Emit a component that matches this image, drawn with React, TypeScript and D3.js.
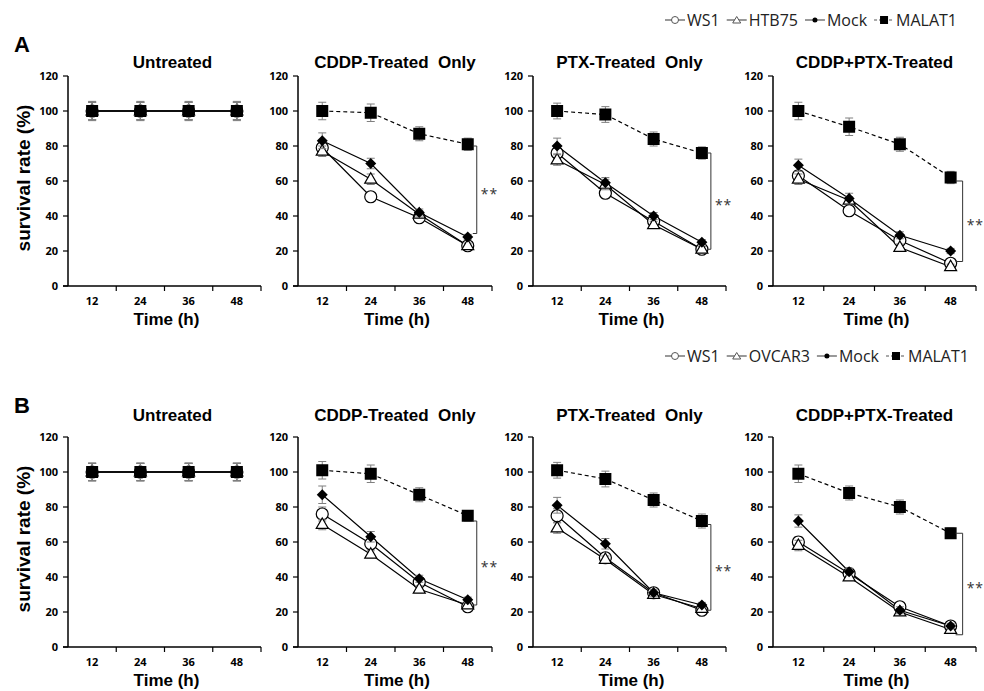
import React, { useEffect, useRef } from 'react';
import * as d3 from 'd3';

// time points on x axis
const timePoints = ['12', '24', '36', '48'];
const yTicks = [0, 20, 40, 60, 80, 100, 120];
const panelTitles = ['Untreated', 'CDDP-Treated\u00a0\u00a0Only', 'PTX-Treated\u00a0\u00a0Only', 'CDDP+PTX-Treated'];
const seriesA = ['WS1', 'HTB75', 'Mock', 'MALAT1'];
const seriesB = ['WS1', 'OVCAR3', 'Mock', 'MALAT1'];

// values per panel, series order: WS1, HTB75/OVCAR3, Mock, MALAT1
const A_untreated = [[100, 100, 100, 100], [100, 100, 100, 100], [100, 100, 100, 100], [100, 100, 100, 100]];
const A_cddp = [[79, 51, 39, 23], [77, 61, 41, 23], [83, 70, 42, 28], [100, 99, 87, 81]];
const A_ptx = [[76, 53, 37, 21], [72, 58, 35, 21], [80, 59, 40, 25], [100, 98, 84, 76]];
const A_both = [[63, 43, 26, 13], [61, 49, 22, 11], [69, 50, 29, 20], [100, 91, 81, 62]];

const B_untreated = [[100, 100, 100, 100], [100, 100, 100, 100], [100, 100, 100, 100], [100, 100, 100, 100]];
const B_cddp = [[76, 59, 37, 23], [70, 53, 33, 24], [87, 63, 39, 27], [101, 99, 87, 75]];
const B_ptx = [[75, 51, 31, 21], [68, 50, 30, 22], [81, 59, 31, 24], [101, 96, 84, 72]];
const B_both = [[60, 42, 23, 12], [58, 40, 20, 10], [72, 43, 21, 12], [99, 88, 80, 65]];

// error bars (sd)
const A_untreated_err = [[5, 5, 5, 5], [5, 5, 5, 5], [5, 5, 5, 5], [5.5, 5.5, 5.5, 5.5]];
const A_cddp_err = [[3, 2.5, 2, 1.5], [3, 3, 2, 1.5], [4.5, 3, 2, 1.5], [5, 5, 4, 3.5]];
const A_ptx_err = [[3, 3, 2, 1.5], [3, 3, 2, 1.5], [4.5, 3, 2, 1.5], [4.5, 4.5, 4, 3.5]];
const A_both_err = [[3, 2, 2, 1.5], [3, 2, 2, 1.5], [3.5, 3, 2, 1.5], [5, 5, 4, 3.5]];
const B_untreated_err = [[5, 5, 5, 5], [5, 5, 5, 5], [5, 5, 5, 5], [5, 5, 5, 5]];
const B_cddp_err = [[4, 3, 2, 1.5], [3, 2, 2, 1.5], [5, 3, 2, 1.5], [5, 5, 4, 3]];
const B_ptx_err = [[4, 2, 2, 1.5], [3, 2, 2, 1.5], [4.5, 3, 2, 1.5], [4.5, 4.5, 4, 4]];
const B_both_err = [[3, 2, 2, 1.5], [3, 2, 2, 1.5], [3.5, 2, 2, 1.5], [5, 4, 4, 3]];

// significance brackets (top, bottom) per treated panel
const A_sig = [[80, 30], [76, 21], [60, 14]];
const B_sig = [[72, 24], [70, 21], [65, 7]];

const FONT = 'Liberation Sans, Arial, sans-serif';
const TICKFONT = '"Open Sans", Calibri, sans-serif';

const rows = [
  { label: 'A', top: 76, bottom: 286, titleOffset: 8, series: seriesA, data: [A_untreated, A_cddp, A_ptx, A_both], err: [A_untreated_err, A_cddp_err, A_ptx_err, A_both_err], sig: A_sig, legendY: 20 },
  { label: 'B', top: 437, bottom: 647, titleOffset: 16, series: seriesB, data: [B_untreated, B_cddp, B_ptx, B_both], err: [B_untreated_err, B_cddp_err, B_ptx_err, B_both_err], sig: B_sig, legendY: 356 },
];

const panelLeft = [68, 298, 533, 773];
const panelWidth = [193, 194, 193, 203];

function drawMarker(g, kind, x, y) {
  if (kind === 0) {
    g.append('circle').attr('cx', x).attr('cy', y).attr('r', 6)
      .attr('fill', 'white').attr('stroke', 'black').attr('stroke-width', 1.2);
  } else if (kind === 1) {
    const s = 12;
    const h = s * Math.sqrt(3) / 2;
    g.append('path')
      .attr('d', `M${x},${y - h * 0.62}L${x + s / 2},${y + h * 0.38}L${x - s / 2},${y + h * 0.38}Z`)
      .attr('fill', 'white').attr('stroke', 'black').attr('stroke-width', 1.2);
  } else if (kind === 2) {
    const r = 5.5;
    g.append('path')
      .attr('d', `M${x},${y - r}L${x + r},${y}L${x},${y + r}L${x - r},${y}Z`)
      .attr('fill', 'black');
  } else {
    g.append('rect').attr('x', x - 6).attr('y', y - 6).attr('width', 12).attr('height', 12).attr('fill', 'black');
  }
}

const App = () => {
  const svgRef = useRef(null);

  useEffect(() => {
    const svg = d3.select(svgRef.current);
    svg.selectAll('*').remove();

    rows.forEach(row => {
      // panel letter
      svg.append('text').attr('x', 14).attr('y', row.top - 24)
        .attr('font-family', FONT).attr('font-weight', 'bold').attr('font-size', 22)
        .text(row.label);

      // y label
      svg.append('text')
        .attr('transform', `translate(30,${(row.top + row.bottom) / 2 - 3}) rotate(-90)`)
        .attr('text-anchor', 'middle')
        .attr('font-family', FONT).attr('font-weight', 'bold').attr('font-size', 19)
        .text('survival rate (%)');

      // legend
      const leg = svg.append('g').attr('transform', `translate(665,${row.legendY})`);
      let lx = 0;
      row.series.forEach((name, si) => {
        const item = leg.append('g').attr('transform', `translate(${lx},0)`);
        item.append('line').attr('x1', 0).attr('x2', 20).attr('y1', 0).attr('y2', 0)
          .attr('stroke', '#555').attr('stroke-width', 1.2)
          .attr('stroke-dasharray', si === 3 ? '3,2' : null);
        if (si === 0) item.append('circle').attr('cx', 10).attr('cy', 0).attr('r', 3.5).attr('fill', 'white').attr('stroke', '#555');
        if (si === 1) item.append('path').attr('d', 'M10,-3.5L14,3L6,3Z').attr('fill', 'white').attr('stroke', '#555');
        if (si === 2) item.append('circle').attr('cx', 10).attr('cy', 0).attr('r', 2.5).attr('fill', 'black');
        if (si === 3) item.append('rect').attr('x', 6).attr('y', -4).attr('width', 8).attr('height', 8).attr('fill', 'black');
        const t = item.append('text').attr('x', 22).attr('y', 6)
          .attr('font-family', TICKFONT).attr('font-size', 16).attr('fill', '#222')
          .text(name);
        lx += 22 + (t.node() as SVGTextElement).getComputedTextLength() + 7;
      });

      row.data.forEach((panel, pi) => {
        const left = panelLeft[pi];
        const w = panelWidth[pi];
        const x = d3.scaleBand().domain(timePoints).range([left, left + w]).padding(0);
        const y = d3.scaleLinear().domain([0, 120]).range([row.bottom, row.top]);
        const cx = d => x(d) + x.bandwidth() / 2;
        const g = svg.append('g');

        // title
        g.append('text').attr('x', left + w / 2 + (pi === 0 ? 8 : 0)).attr('y', row.top - row.titleOffset)
          .attr('text-anchor', 'middle')
          .attr('font-family', FONT).attr('font-weight', 'bold').attr('font-size', 17)
          .text(panelTitles[pi]);

        // axes
        g.append('line').attr('x1', left).attr('x2', left).attr('y1', row.top).attr('y2', row.bottom)
          .attr('stroke', 'black').attr('stroke-width', 1.5);
        g.append('line').attr('x1', left - 5).attr('x2', left + w).attr('y1', row.bottom).attr('y2', row.bottom)
          .attr('stroke', 'black').attr('stroke-width', 1.5);
        yTicks.forEach(v => {
          g.append('line').attr('x1', left - 5).attr('x2', left).attr('y1', y(v)).attr('y2', y(v))
            .attr('stroke', 'black').attr('stroke-width', 1.2);
          g.append('text').attr('x', left - 10).attr('y', y(v) + 4)
            .attr('text-anchor', 'end').attr('font-family', TICKFONT).attr('font-weight', 'bold')
            .attr('font-size', 11).text(v);
        });
        timePoints.forEach(tp => {
          const ex = x(tp) + x.bandwidth();
          g.append('line').attr('x1', ex).attr('x2', ex).attr('y1', row.bottom).attr('y2', row.bottom + 5)
            .attr('stroke', 'black').attr('stroke-width', 1.2);
          g.append('text').attr('x', cx(tp)).attr('y', row.bottom + 19)
            .attr('text-anchor', 'middle').attr('font-family', TICKFONT).attr('font-weight', 'bold')
            .attr('font-size', 11).text(tp);
        });
        g.append('text').attr('x', left + w / 2 + 2).attr('y', row.bottom + 39)
          .attr('text-anchor', 'middle').attr('font-family', FONT).attr('font-weight', 'bold')
          .attr('font-size', 17).text('Time (h)');

        const line = d3.line().x((d, i) => cx(timePoints[i])).y(d => y(d));

        // lines
        panel.forEach((vals, si) => {
          g.append('path').attr('d', line(vals)).attr('fill', 'none')
            .attr('stroke', 'black').attr('stroke-width', 1.2)
            .attr('stroke-dasharray', si === 3 && pi > 0 ? '4,3' : null);
        });
        // error bars + markers
        panel.forEach((vals, si) => {
          vals.forEach((v, i) => {
            const px = cx(timePoints[i]);
            const e = row.err[pi][si][i];
            const eg = g.append('g').attr('stroke', '#7f7f7f').attr('stroke-width', 1);
            eg.append('line').attr('x1', px).attr('x2', px).attr('y1', y(v + e)).attr('y2', y(v - e));
            eg.append('line').attr('x1', px - 4).attr('x2', px + 4).attr('y1', y(v + e)).attr('y2', y(v + e));
            eg.append('line').attr('x1', px - 4).attr('x2', px + 4).attr('y1', y(v - e)).attr('y2', y(v - e));
            drawMarker(g, si, px, y(v));
          });
        });

        // significance bracket
        if (pi > 0) {
          const [st, sb] = row.sig[pi - 1];
          const x48 = cx('48');
          const bx = x48 + (pi === 3 ? 12 : 9);
          g.append('path')
            .attr('d', `M${x48 + 5},${y(st)}H${bx}V${y(sb)}H${x48 + 5}`)
            .attr('fill', 'none').attr('stroke', '#333').attr('stroke-width', 1);
          g.append('text').attr('x', bx + 4).attr('y', y((st + sb) / 2) + 9)
            .attr('font-family', TICKFONT).attr('font-size', 14).attr('fill', '#333')
            .attr('letter-spacing', 1)
            .text('**');
        }
      });
    });
  }, []);

  return <svg ref={svgRef} width={984} height={691} style={{ display: 'block', position: 'absolute', left: 0, top: 0, background: 'white' }} />;
};

export default App;
